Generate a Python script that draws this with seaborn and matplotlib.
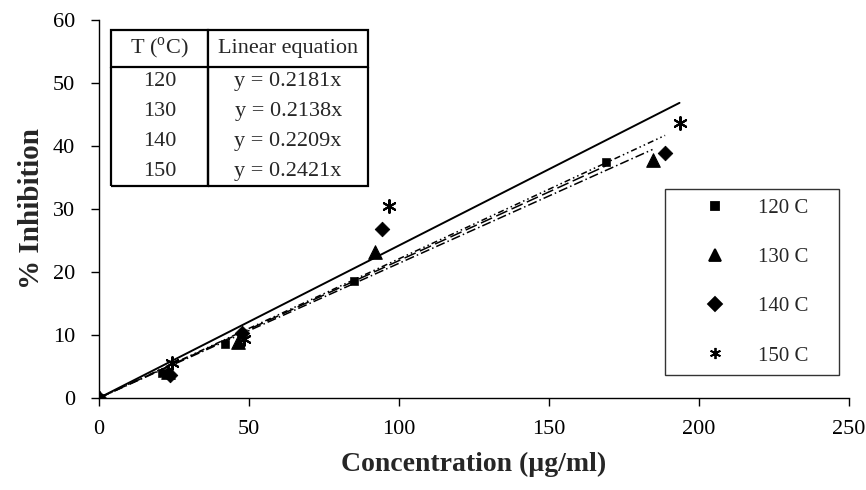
import numpy as np
import pandas as pd
import matplotlib
matplotlib.use("Agg")
import matplotlib.pyplot as plt
import seaborn as sns
from matplotlib.lines import Line2D

# ---- data ----
temps = ["120 C", "130 C", "140 C", "150 C"]
x120 = [0, 21, 42, 85, 169]
y120 = [0, 3.9, 8.6, 18.5, 37.4]
x130 = [0, 23, 46.5, 92, 184.5]
y130 = [0, 4.2, 8.9, 23.2, 37.7]
x140 = [0, 23.7, 47.6, 94.3, 188.7]
y140 = [0, 3.7, 10.3, 26.9, 38.9]
x150 = [0, 24.3, 48.5, 96.5, 193.5]
y150 = [0, 5.6, 9.3, 30.4, 43.6]
slopes = [0.2181, 0.2138, 0.2209, 0.2421]
table_temps = ["120", "130", "140", "150"]
equations = ["y = 0.2181x", "y = 0.2138x", "y = 0.2209x", "y = 0.2421x"]
xticks = [0, 50, 100, 150, 200, 250]
yticks = [0, 10, 20, 30, 40, 50, 60]

xs = [x120, x130, x140, x150]
ys = [y120, y130, y140, y150]

sns.set_theme(style="ticks")
plt.rcParams["font.family"] = ["Liberation Serif", "DejaVu Serif"]
plt.rcParams["mathtext.fontset"] = "custom"
plt.rcParams["mathtext.rm"] = "Liberation Serif"

fig = plt.figure(figsize=(8.66, 4.9), dpi=100)
ax = fig.add_axes([0.1143, 0.1878, 0.8661, 0.7714])

markers = ["s", "^", "D", (6, 2, 0)]
msizes = [32, 95, 55, 85]
linestyles = [(0, (8, 3)), (0, (6, 2, 1, 2)), (0, (4, 2, 1, 2, 1, 2)), "-"]
lws = [1.1, 1.1, 1.1, 1.4]

for i in range(4):
    xi = np.array(xs[i], dtype=float)
    fit_x = np.array([0.0, xi.max()])
    fit_df = pd.DataFrame({"x": fit_x, "y": slopes[i] * fit_x})
    sns.lineplot(data=fit_df, x="x", y="y", ax=ax, color="black",
                 linestyle=linestyles[i], linewidth=lws[i])
for i in range(4):
    df = pd.DataFrame({"x": xs[i], "y": ys[i]})
    kw = dict(edgecolor="black") if i < 3 else dict(linewidth=1.5)
    sns.scatterplot(data=df, x="x", y="y", ax=ax, color="black",
                    marker=markers[i], s=msizes[i], zorder=5, **kw)

ax.set_xlim(0, 250)
ax.set_ylim(0, 60)
ax.set_xticks(xticks)
ax.set_yticks(yticks)
ax.tick_params(axis="both", labelsize=16, length=6, width=1, color="black",
               labelcolor="black")
ax.tick_params(axis="x", pad=10)
ax.tick_params(axis="y", pad=11)
for s in ["top", "right"]:
    ax.spines[s].set_visible(False)
for s in ["left", "bottom"]:
    ax.spines[s].set_color("black")
    ax.spines[s].set_linewidth(1)
ax.set_xlabel("Concentration (\u00b5g/ml)", fontsize=20, fontweight="bold",
              labelpad=9)
ax.set_ylabel("% Inhibition", fontsize=21, fontweight="bold", labelpad=6)

# legend
handles = [Line2D([], [], linestyle="none", marker=markers[i], color="black",
                  markersize=[5.5, 9, 7, 8][i], markeredgewidth=1.3)
           for i in range(4)]
leg = ax.legend(handles, temps, loc="lower left", mode="expand",
                bbox_to_anchor=(0.755, 0.061, 0.232, 0.495), fontsize=15,
                frameon=True, fancybox=False, edgecolor="black",
                labelspacing=1.42, borderpad=0.45, handlelength=3.9,
                handletextpad=0.1, borderaxespad=0)
leg.get_frame().set_linewidth(1)

# table
cell_text = [[t, e] for t, e in zip(table_temps, equations)]
tbl = ax.table(cellText=cell_text,
               colLabels=["T ($^{\\mathrm{o}}$C)", "Linear equation"],
               cellLoc="center", colWidths=[97, 160],
               bbox=[0.016, 0.561, 0.343, 0.413])
tbl.auto_set_font_size(False)
tbl.set_fontsize(16)
nrows = len(cell_text)
for (r, c), cell in tbl.get_celld().items():
    cell.set_linewidth(1.6)
    cell.set_edgecolor("black")
    cell.set_facecolor("white")
    if r == 0:
        cell.set_height(37)
        cell.visible_edges = "closed"
    else:
        cell.set_height(29.75)
        cell.visible_edges = "LRB" if r == nrows else "LR"

fig.savefig("out.png", dpi=100)
